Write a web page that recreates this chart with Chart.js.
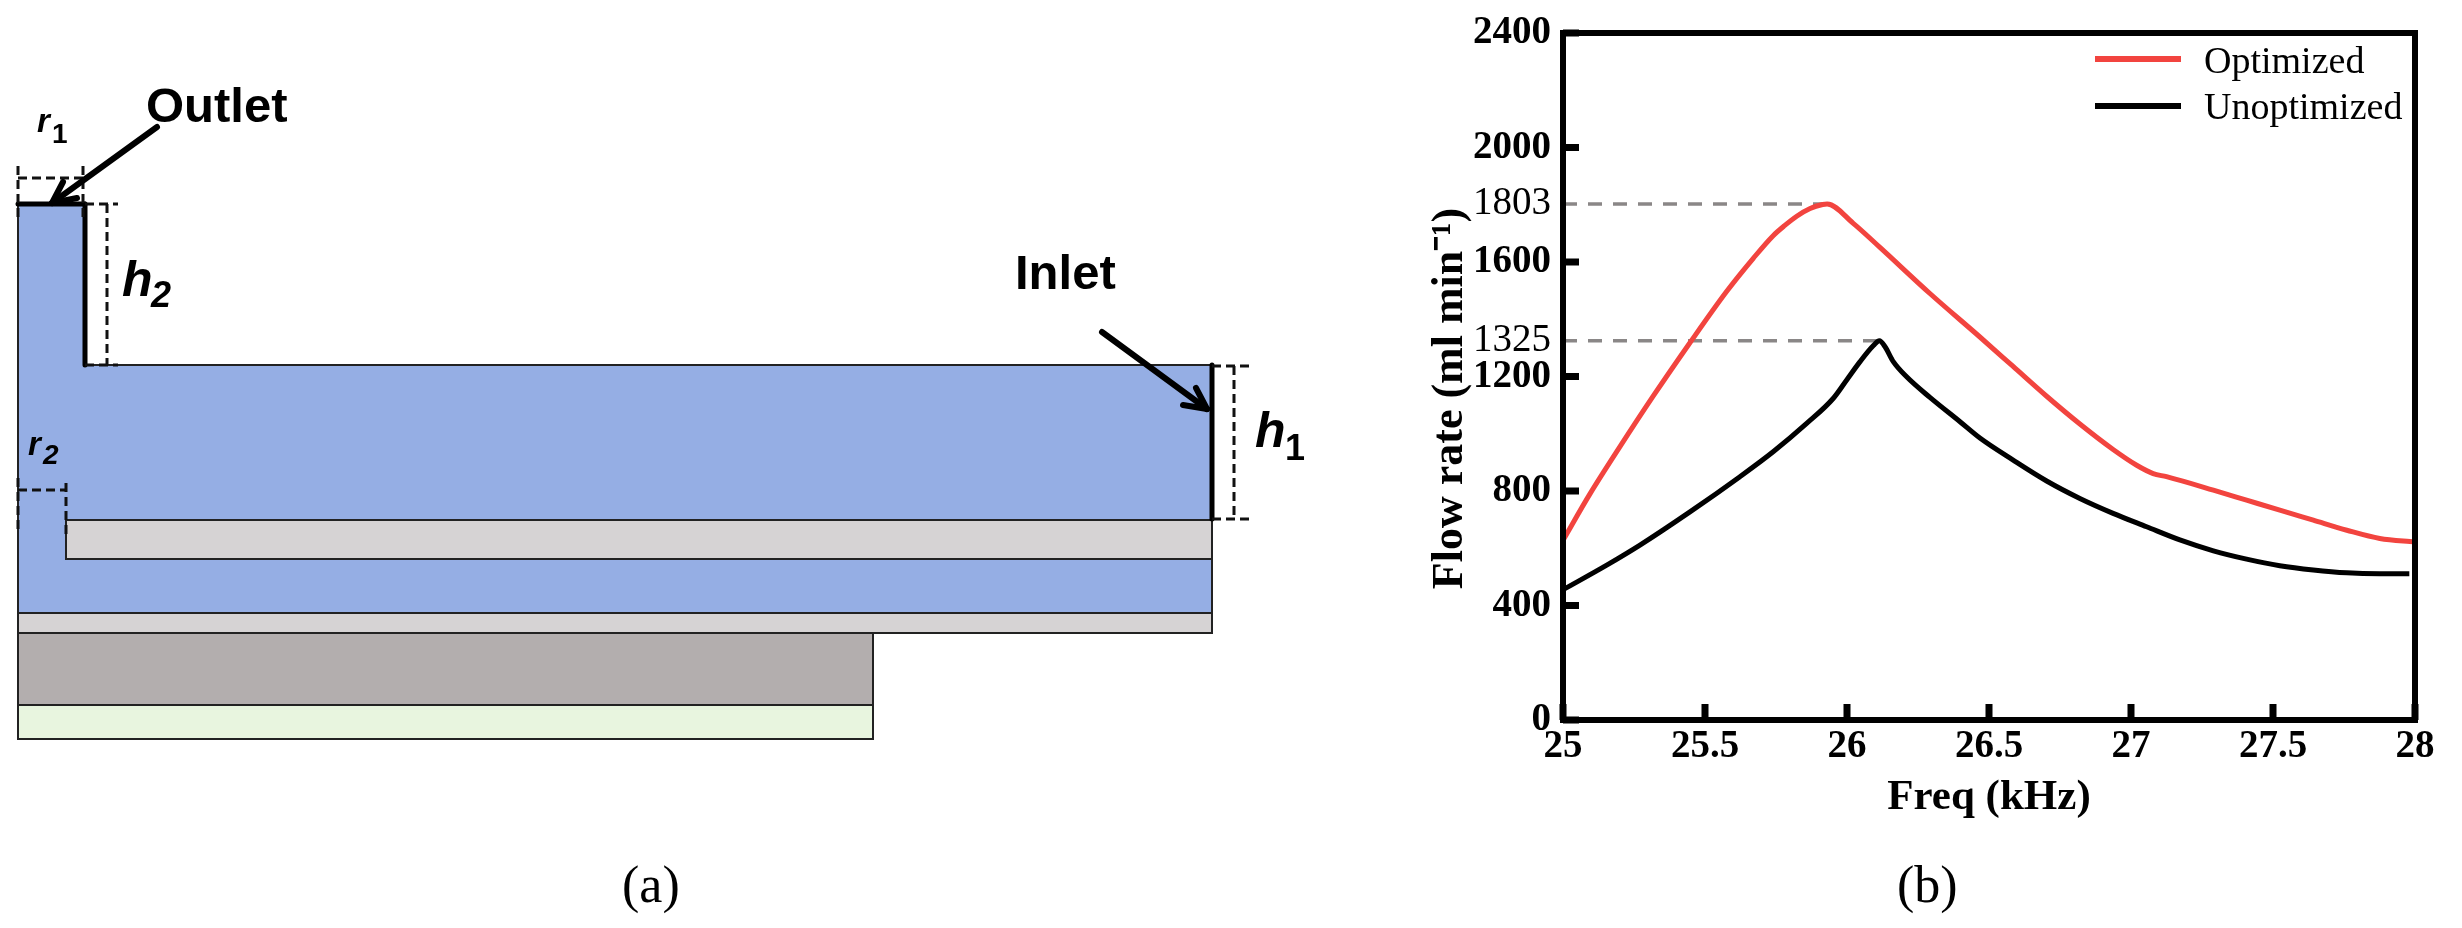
<!DOCTYPE html>
<html>
<head>
<meta charset="utf-8">
<title>Schematic and flow rate</title>
<script src="https://cdn.jsdelivr.net/npm/chart.js@4"></script>
<style>
  html, body { margin: 0; padding: 0; background: #fff; }
  canvas { position: absolute; top: 0; }
  #schematic { left: 0; }
  #flow { left: 1400px; }
</style>
</head>
<body>
<canvas id="schematic" width="1400" height="928"></canvas>
<canvas id="flow" width="1062" height="928"></canvas>
<script>
// panel (b) data
const optFreq = [25, 25.095, 25.2, 25.318, 25.447, 25.576, 25.67, 25.74, 25.78, 25.823, 25.87, 25.914, 25.93, 26.022, 26.116, 26.292, 26.468, 26.585, 26.703, 26.82, 26.937, 27.02, 27.078, 27.125, 27.29, 27.407, 27.524, 27.642, 27.76, 27.876, 28];
const optFlow = [628, 790, 954, 1132, 1318, 1497, 1613, 1692, 1727, 1760, 1787, 1801, 1803, 1735, 1651, 1490, 1338, 1235, 1131, 1034, 945, 890, 861, 850, 803, 768, 733, 698, 663, 634, 622];
const unoptFreq = [25, 25.154, 25.271, 25.447, 25.623, 25.74, 25.858, 25.952, 25.999, 26.046, 26.093, 26.114, 26.134, 26.163, 26.21, 26.292, 26.398, 26.468, 26.585, 26.703, 26.82, 26.937, 27.055, 27.172, 27.29, 27.407, 27.524, 27.642, 27.76, 27.876, 27.98];
const unoptFlow = [455, 541, 611, 727, 850, 937, 1036, 1124, 1188, 1252, 1308, 1325, 1304, 1252, 1199, 1127, 1042, 985, 908, 835, 774, 722, 675, 629, 591, 562, 539, 524, 514, 511, 511];
const seriesNames = ['Optimized', 'Unoptimized'];
const yTicks = [0, 400, 800, 1200, 1325, 1600, 1803, 2000, 2400];
const peakTicks = [1325, 1803];
const peakFreq = [25.93, 26.11];

// panel (a) geometry: [x0, y0, x1, y1]
const fluidRects = [[18, 204, 85, 365], [18, 365, 1212, 613]];
const shimRects = [[66, 520, 1212, 559], [18, 613, 1212, 633]];
const ceramicRects = [[18, 633, 873, 705]];
const baseRects = [[18, 705, 873, 739]];
const thinEdges = [[18, 204, 18, 613], [85, 365, 1212, 365], [1212, 519, 1212, 613]];
const heavyEdges = [[18, 204, 85, 204], [85, 204, 85, 365], [1212, 365, 1212, 519]];
const dashEdges = [
  [18, 166, 18, 217], [83, 166, 83, 217], [18, 178, 83, 178],
  [85, 204, 118, 204], [85, 365, 118, 365], [107, 204, 107, 365],
  [18, 478, 18, 530], [66, 483, 66, 535], [18, 490, 66, 490],
  [1212, 366, 1250, 366], [1212, 519, 1250, 519], [1234, 366, 1234, 519]
];
const arrowEdges = [
  [157, 127, 52, 203], [52, 203, 63, 182], [52, 203, 77, 198],
  [1102, 332, 1207, 409], [1207, 409, 1196, 388], [1207, 409, 1183, 405]
];

const SANS = '"Liberation Sans"';
const SERIF = '"Liberation Serif"';

const schematicNotes = [
  { text: 'Outlet', x: 146, y: 122, font: 'bold 49px ' + SANS },
  { text: 'Inlet', x: 1015, y: 289, font: 'bold 49px ' + SANS },
  { text: 'h', x: 122, y: 296, font: 'italic bold 50px ' + SANS },
  { text: '2', x: 151, y: 307, font: 'italic bold 36px ' + SANS },
  { text: 'h', x: 1255, y: 447, font: 'italic bold 50px ' + SANS },
  { text: '1', x: 1285, y: 460, font: 'bold 36px ' + SANS },
  { text: 'r', x: 37, y: 132, font: 'italic bold 33px ' + SANS },
  { text: '1', x: 52, y: 143, font: 'bold 28px ' + SANS },
  { text: 'r', x: 28, y: 455, font: 'italic bold 33px ' + SANS },
  { text: '2', x: 43, y: 464, font: 'italic bold 28px ' + SANS },
  { text: '(a)', x: 622, y: 902, font: '52px ' + SERIF }
];

// draws text notes in data coordinates of the x/y scales
const notesPlugin = {
  id: 'notes',
  afterDraw(chart, args, opts) {
    const c = chart.ctx;
    c.save();
    c.fillStyle = '#000';
    c.textBaseline = 'alphabetic';
    c.textAlign = 'left';
    (opts.items || []).forEach(n => {
      c.font = n.font;
      c.fillText(n.text, chart.scales.x.getPixelForValue(n.x), chart.scales.y.getPixelForValue(n.y));
    });
    c.restore();
  }
};

function edgeSet(edge, color, width, dash) {
  return {
    data: [{ x: edge[0], y: edge[1] }, { x: edge[2], y: edge[3] }],
    showLine: true, pointRadius: 0, borderColor: color, borderWidth: width,
    borderDash: dash || [], borderCapStyle: dash ? 'butt' : 'round', clip: false, fill: false
  };
}
function rectFill(r, color) {
  return {
    data: [{ x: r[0], y: r[1] }, { x: r[2], y: r[1] }],
    showLine: true, pointRadius: 0, borderWidth: 0, borderColor: color,
    backgroundColor: color, fill: { value: r[3] }, clip: false
  };
}
function rectOutline(r) {
  return {
    data: [{ x: r[0], y: r[1] }, { x: r[2], y: r[1] }, { x: r[2], y: r[3] }, { x: r[0], y: r[3] }, { x: r[0], y: r[1] }],
    showLine: true, pointRadius: 0, borderColor: '#222', borderWidth: 2, fill: false, clip: false
  };
}

// first dataset ends up on top, so the list runs from front to back
new Chart(document.getElementById('schematic'), {
  type: 'scatter',
  plugins: [notesPlugin],
  data: {
    datasets: [
      ...arrowEdges.map(e => edgeSet(e, '#000', 6)),
      ...dashEdges.map(e => edgeSet(e, '#111', 3, [9, 5])),
      ...heavyEdges.map(e => edgeSet(e, '#000', 5)),
      ...thinEdges.map(e => edgeSet(e, '#222', 2)),
      ...shimRects.concat(ceramicRects, baseRects).map(rectOutline),
      ...baseRects.map(r => rectFill(r, '#E8F5DF')),
      ...ceramicRects.map(r => rectFill(r, '#B3AEAE')),
      ...shimRects.map(r => rectFill(r, '#D6D3D4')),
      ...fluidRects.map(r => rectFill(r, '#95AEE4'))
    ]
  },
  options: {
    responsive: false,
    animation: false,
    layout: { padding: 0 },
    plugins: { legend: { display: false }, tooltip: { enabled: false }, notes: { items: schematicNotes } },
    scales: {
      x: { type: 'linear', min: 0, max: 1400, display: false },
      y: { type: 'linear', min: 0, max: 928, reverse: true, display: false }
    }
  }
});

function toPoints(xs, ys) {
  return xs.map((x, i) => ({ x: x, y: ys[i] }));
}
function isPeak(c) {
  return c.tick && peakTicks.includes(c.tick.value);
}

// frame, inward ticks, legend and caption of panel (b)
const framePlugin = {
  id: 'frame',
  afterDraw(chart) {
    const c = chart.ctx, a = chart.chartArea;
    c.save();
    c.strokeStyle = '#000';
    c.lineWidth = 6;
    c.strokeRect(a.left, a.top, a.right - a.left, a.bottom - a.top);
    c.fillStyle = '#000';
    chart.scales.y.ticks.forEach(t => {
      if (!peakTicks.includes(t.value)) c.fillRect(a.left, chart.scales.y.getPixelForValue(t.value) - 3.5, 16, 7);
    });
    chart.scales.x.ticks.forEach(t => {
      c.fillRect(chart.scales.x.getPixelForValue(t.value) - 3.5, a.bottom - 16, 7, 16);
    });
    c.textBaseline = 'alphabetic';
    c.textAlign = 'left';
    c.font = '38px ' + SERIF;
    [['#F2443F', 59, 73], ['#000', 106, 119]].forEach((row, i) => {
      c.fillStyle = row[0];
      c.fillRect(695, row[1] - 3, 86, 6);
      c.fillStyle = '#000';
      c.fillText(seriesNames[i], 804, row[2]);
    });
    c.font = '52px ' + SERIF;
    c.fillText('(b)', 497, 902);
    c.restore();
  }
};

new Chart(document.getElementById('flow'), {
  type: 'scatter',
  plugins: [framePlugin],
  data: {
    datasets: [
      { label: seriesNames[0], data: toPoints(optFreq, optFlow), showLine: true, pointRadius: 0, borderColor: '#F2443F', borderWidth: 5, cubicInterpolationMode: 'monotone' },
      { label: seriesNames[1], data: toPoints(unoptFreq, unoptFlow), showLine: true, pointRadius: 0, borderColor: '#000', borderWidth: 5, cubicInterpolationMode: 'monotone' },
      { data: [{ x: 25, y: peakTicks[1] }, { x: peakFreq[0], y: peakTicks[1] }], showLine: true, pointRadius: 0, borderColor: '#8a8787', borderWidth: 3.5, borderDash: [14, 11] },
      { data: [{ x: 25, y: peakTicks[0] }, { x: peakFreq[1], y: peakTicks[0] }], showLine: true, pointRadius: 0, borderColor: '#8a8787', borderWidth: 3.5, borderDash: [14, 11] }
    ]
  },
  options: {
    responsive: false,
    animation: false,
    layout: { padding: { top: 33, right: 47, left: 0, bottom: 0 } },
    plugins: { legend: { display: false }, tooltip: { enabled: false } },
    scales: {
      x: {
        type: 'linear', min: 25, max: 28,
        afterFit: s => { s.height = 208; s.paddingLeft = 0; s.paddingRight = 0; },
        border: { display: false },
        grid: { display: false, drawTicks: false },
        ticks: { stepSize: 0.5, padding: 4, color: '#000', maxRotation: 0, font: { family: SERIF, size: 39, weight: 'bold' }, callback: v => String(v) },
        title: { display: true, text: 'Freq (kHz)', color: '#000', font: { family: SERIF, size: 43, weight: 'bold' }, padding: { top: 0, bottom: 104 } }
      },
      y: {
        type: 'linear', min: 0, max: 2400,
        afterFit: s => { s.width = 163; s.paddingTop = 0; s.paddingBottom = 0; },
        afterBuildTicks: s => { s.ticks = yTicks.map(v => ({ value: v })); },
        border: { display: false },
        grid: { display: false, drawTicks: false },
        ticks: {
          autoSkip: false, padding: 12, color: '#000',
          font: c => ({ family: SERIF, size: 39, weight: isPeak(c) ? 'normal' : 'bold' }),
          callback: v => String(v)
        },
        title: { display: true, text: 'Flow rate (ml min⁻¹)    ', color: '#000', font: { family: SERIF, size: 44, weight: 'bold' }, padding: { top: 24, bottom: 0 } }
      }
    }
  }
});
</script>
</body>
</html>
